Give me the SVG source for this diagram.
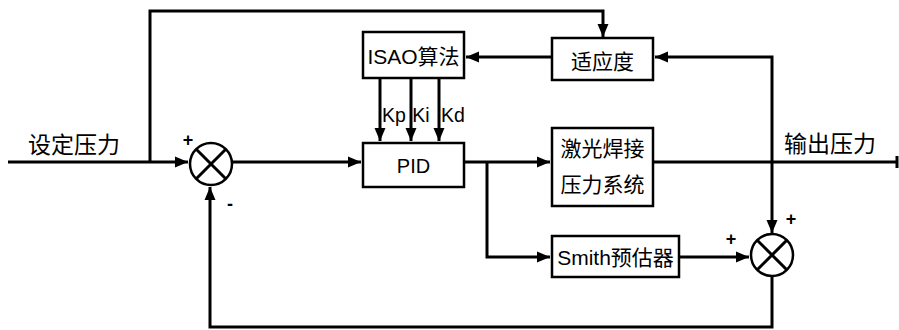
<svg xmlns="http://www.w3.org/2000/svg" width="899" height="330" viewBox="0 0 899 330">
<style>
.box{fill:#fff;stroke:#000;stroke-width:2.5}
.ln{fill:none;stroke:#000;stroke-width:3}
.t{font-family:"Liberation Sans","Noto Sans CJK SC",sans-serif;font-size:21px;fill:#000;text-anchor:middle;dominant-baseline:central}
.k{font-size:19.5px}
.big{font-size:23px}
.sg{font-family:"Liberation Sans",sans-serif;font-size:18px;font-weight:bold;fill:#000;text-anchor:middle}
</style>
<defs>
<marker id="a" markerUnits="userSpaceOnUse" markerWidth="14" markerHeight="14" viewBox="0 0 14 14" refX="13" refY="7" orient="auto">
<path d="M0,1.5 L13,7 L0,12.5 Z" fill="#000"/>
</marker>
</defs>
<g id="connectors">
<path class="ln" d="M8,162 H188" marker-end="url(#a)"/>
<path class="ln" d="M150,162 V11 H603 V37" marker-end="url(#a)"/>
<path class="ln" d="M232,162 H361" marker-end="url(#a)"/>
<path class="ln" d="M552,57 H466" marker-end="url(#a)"/>
<path class="ln" d="M380,78 V141" marker-end="url(#a)"/>
<path class="ln" d="M411,78 V141" marker-end="url(#a)"/>
<path class="ln" d="M439,78 V141" marker-end="url(#a)"/>
<path class="ln" d="M465,162 H550" marker-end="url(#a)"/>
<path class="ln" d="M487,162 V257 H550" marker-end="url(#a)"/>
<path class="ln" d="M653,162 H897"/>
<path class="ln" d="M897,156 V168"/>
<path class="ln" d="M772,162 V57 H655" marker-end="url(#a)"/>
<path class="ln" d="M772,162 V233" marker-end="url(#a)"/>
<path class="ln" d="M679,257 H749" marker-end="url(#a)"/>
<path class="ln" d="M772,277 V327 H210 V187" marker-end="url(#a)"/>
</g>
<g id="sum1">
<circle class="box" cx="211" cy="164" r="21"/>
<path class="ln" d="M196,149 L226,179 M226,149 L196,179"/>
<text class="sg" x="188" y="146">+</text>
<text class="sg" x="230" y="210">-</text>
</g>
<g id="sum2">
<circle class="box" cx="772" cy="255" r="21"/>
<path class="ln" d="M757,240 L787,270 M787,240 L757,270"/>
<text class="sg" x="791" y="225">+</text>
<text class="sg" x="731" y="245">+</text>
</g>
<g id="isao">
<rect class="box" x="363" y="32" width="101" height="46"/>
<text class="t" x="413.5" y="56">ISAO算法</text>
</g>
<g id="pid">
<rect class="box" x="363" y="143" width="101" height="44"/>
<text class="t" x="413.5" y="166" style="font-size:20px">PID</text>
</g>
<g id="fitness">
<rect class="box" x="552" y="38" width="101" height="42"/>
<text class="t" x="602.5" y="61">适应度</text>
</g>
<g id="plant">
<rect class="box" x="552" y="128" width="101" height="78"/>
<text class="t" x="602.5" y="148">激光焊接</text>
<text class="t" x="602.5" y="184">压力系统</text>
</g>
<g id="smith">
<rect class="box" x="552" y="236" width="127" height="41"/>
<text class="t" x="615.5" y="257">Smith预估器</text>
</g>
<g id="labels">
<text class="t k" x="394" y="115">Kp</text>
<text class="t k" x="421" y="115">Ki</text>
<text class="t k" x="453" y="115">Kd</text>
<text class="t big" x="74" y="145">设定压力</text>
<text class="t big" x="830" y="144">输出压力</text>
</g>
</svg>
